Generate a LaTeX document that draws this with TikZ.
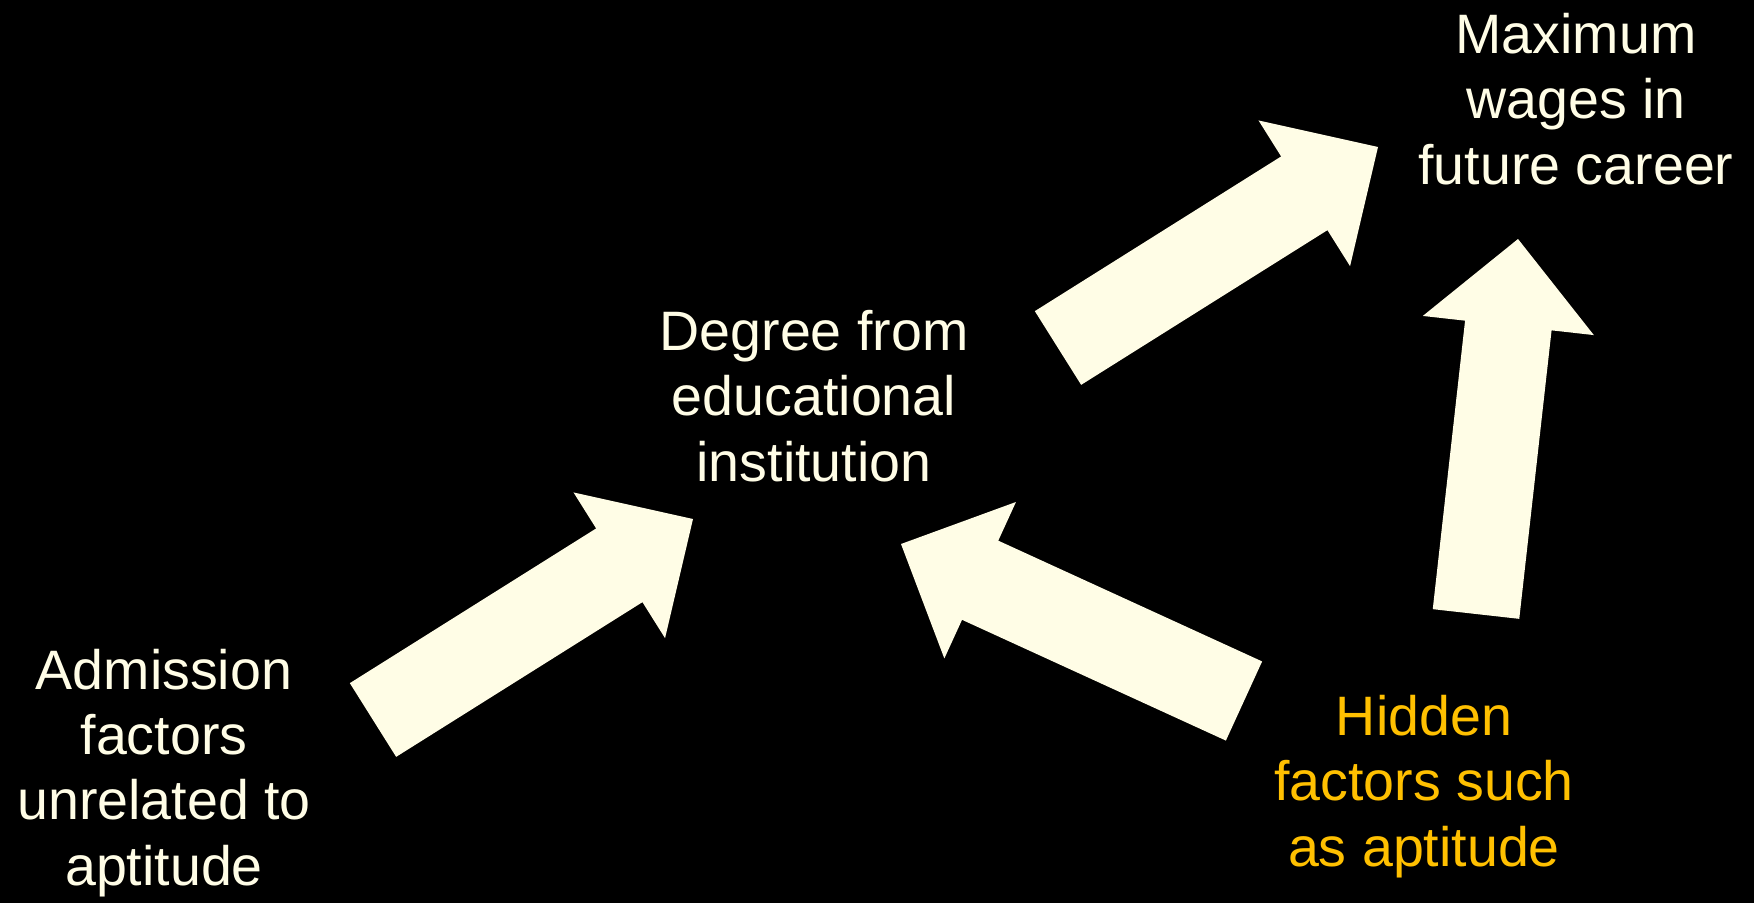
\documentclass[tikz,border=0pt]{standalone}
\usepackage{fontspec}
\setmainfont{Liberation Sans}
\usetikzlibrary{calc}
\definecolor{cream}{RGB}{255,253,230}
\definecolor{hidden}{RGB}{255,192,0}
\tikzstyle{lbl} = [align=center, anchor=base, inner sep=0pt, text=cream, font=\fontsize{15.8pt}{18.5pt}\selectfont]
\tikzstyle{hiddenlbl} = [lbl, text=hidden]
\tikzstyle{bigarrow} = [fill=cream]
% block arrow from tail #1 to tip #2
\newcommand{\blockarrow}[2]{%
  \coordinate (#1hb) at ($(#2)!8.7mm!(#1)$);
  \fill[bigarrow] ($(#1)!4.35mm!90:(#2)$) -- ($(#1hb)!4.35mm!90:(#2)$) -- ($(#1hb)!8.6mm!90:(#2)$)
    -- (#2) -- ($(#1hb)!8.6mm!-90:(#2)$) -- ($(#1hb)!4.35mm!-90:(#2)$) -- ($(#1)!4.35mm!-90:(#2)$) -- cycle;
}

\begin{document}
\begin{tikzpicture}[x=0.01cm, y=-0.01cm]

\path[use as bounding box, fill=black] (0,0) rectangle (1754,903);

% Labels (anchored at the last baseline)
\node (wages) [lbl] at (1576,184) {Maximum\\wages in\\future career};
\node (degree) [lbl] at (814,481) {Degree from\\educational\\institution};
\node (admission) [lbl] at (164,885) {Admission\\factors\\unrelated to\\aptitude};
\node (hidden) [hiddenlbl] at (1424,866) {Hidden\\factors such\\as aptitude};

% Arrow ends
\coordinate (admtail) at (373,720);
\coordinate (admtip) at (693,519);
\coordinate (hidtail) at (1244,701);
\coordinate (hidtip) at (901,544);
\coordinate (degtail) at (1058,348);
\coordinate (degtip) at (1378,147);
\coordinate (aptail) at (1476,614);
\coordinate (aptip) at (1518,239);

% Arrows
\blockarrow{admtail}{admtip}
\blockarrow{hidtail}{hidtip}
\blockarrow{degtail}{degtip}
\blockarrow{aptail}{aptip}

\end{tikzpicture}
\end{document}
